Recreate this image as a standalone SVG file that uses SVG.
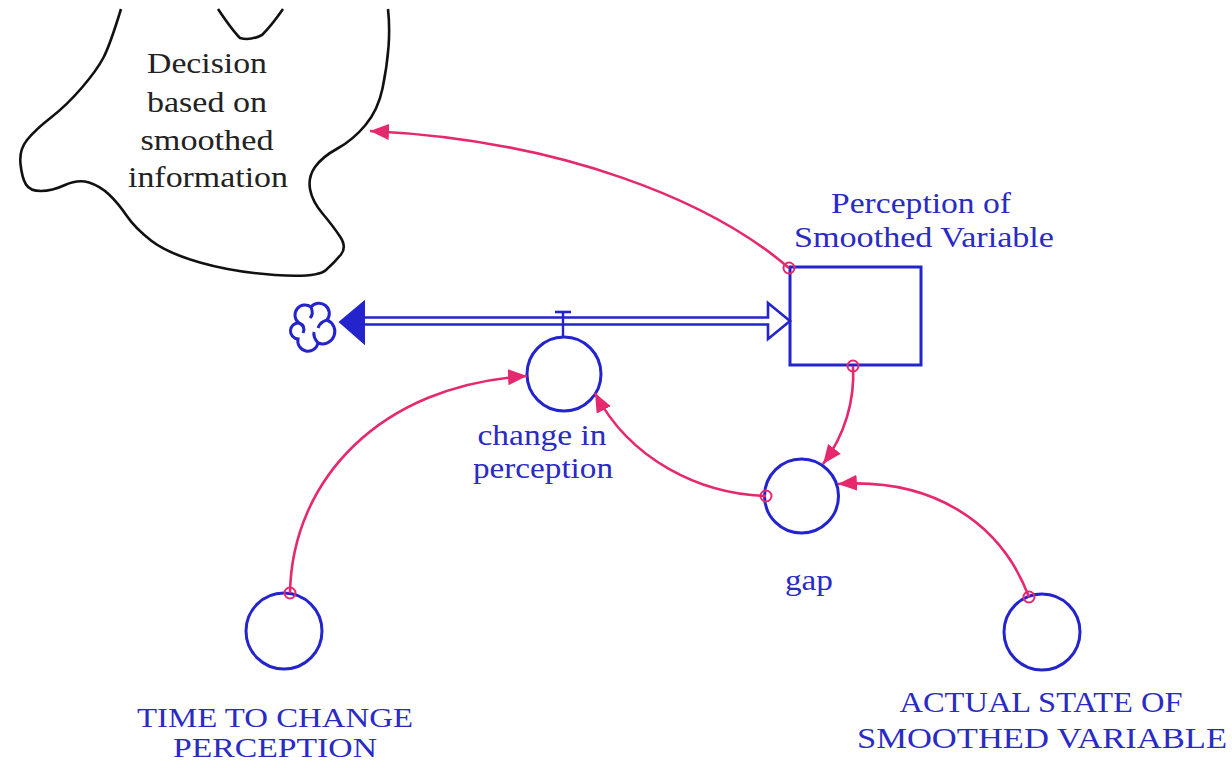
<svg xmlns="http://www.w3.org/2000/svg" width="1232" height="768" viewBox="0 0 1232 768">
<style>
.blue{fill:none;stroke:#2424cc;stroke-width:3}
.lbl{font-family:"Liberation Serif","Times New Roman",serif;font-size:30px;fill:#2a2ac4;text-anchor:middle}
.lbs{font-family:"Liberation Serif","Times New Roman",serif;font-size:27px;fill:#2a2ac4;text-anchor:middle}
.dec{font-family:"Liberation Serif","Times New Roman",serif;font-size:29px;fill:#222;text-anchor:middle}
.link{fill:none;stroke:#e6286e;stroke-width:2.6}
.origin{fill:none;stroke:#e6286e;stroke-width:2}
</style>
<defs>
<marker id="ah" markerUnits="userSpaceOnUse" markerWidth="22" markerHeight="18" refX="19" refY="8" orient="auto">
<path d="M0 0 L19 8 L0 16 Z" fill="#e6286e"/>
</marker>
</defs>
<rect width="1232" height="768" fill="#fff"/>

<g id="decision">
<path d="M 121 9 Q 110 45 103.5 57.5 Q 97 70 82 87.5 Q 67 105 51 117.5 Q 35 130 27 140 Q 19 150 20.5 164 Q 22 178 26 184.5 Q 30 191 41 191 Q 52 191 65 185 Q 78 179 89 182.5 Q 100 186 109 194.5 Q 118 203 126.5 215.5 Q 135 228 151 240.5 Q 167 253 200 262.5 Q 233 272 275 275 Q 317 278 326 270 Q 335 262 341 254.5 Q 347 247 340 236.5 Q 333 226 322.5 213.5 Q 312 201 310 189 Q 308 177 315 167 Q 322 157 337.5 148.5 Q 353 140 365.5 125 Q 378 110 382.5 88.5 Q 387 67 388.5 47 Q 390 27 388 9" fill="none" stroke="#111" stroke-width="2.6"/>
<path d="M 218 9 Q 232 30 240 38 Q 250 41 262 35 Q 272 25 283 9" fill="none" stroke="#111" stroke-width="2.6"/>
<text class="dec" x="207" y="73" textLength="120" lengthAdjust="spacingAndGlyphs">Decision</text>
<text class="dec" x="207" y="112" textLength="120" lengthAdjust="spacingAndGlyphs">based on</text>
<text class="dec" x="207" y="150" textLength="133" lengthAdjust="spacingAndGlyphs">smoothed</text>
<text class="dec" x="208" y="187" textLength="160" lengthAdjust="spacingAndGlyphs">information</text>
</g>

<g id="cloud">
<path class="blue" stroke-width="2.5" d="M 299 323 A 9 9 0 1 1 311 307 A 10 10 0 1 1 327 320 A 9 9 0 1 1 318 343 A 9 9 0 1 1 298 339 A 8 8 0 1 1 299 323 Z"/>
<path class="blue" stroke-width="2.2" d="M 299 323 Q 306 326 303 333 M 311 307 Q 314 314 310 318 M 327 320 Q 320 322 318 328 M 318 343 Q 313 337 314 332"/>
</g>

<g id="flow">
<path d="M 362 317.5 H 768 V 303 L 790 321 L 768 339 V 324.5 H 362" fill="#fff" stroke="#2424cc" stroke-width="2.6"/>
<path d="M 340 322 L 364 302 L 364 343 Z" fill="#2424cc" stroke="#2424cc" stroke-width="2"/>
<line x1="563" y1="312" x2="563" y2="337" stroke="#2424cc" stroke-width="2.4"/>
<line x1="555" y1="312" x2="571" y2="312" stroke="#2424cc" stroke-width="2.6"/>
</g>

<g id="perception">
<rect class="blue" x="790" y="267" width="131" height="98"/>
<text class="lbl" x="921" y="213" textLength="180" lengthAdjust="spacingAndGlyphs">Perception of</text>
<text class="lbl" x="924" y="247" textLength="260" lengthAdjust="spacingAndGlyphs">Smoothed Variable</text>
</g>

<g id="change">
<circle class="blue" cx="564" cy="374" r="37"/>
<text class="lbl" x="542" y="445" textLength="129" lengthAdjust="spacingAndGlyphs">change in</text>
<text class="lbl" x="543" y="478" textLength="140" lengthAdjust="spacingAndGlyphs">perception</text>
</g>

<g id="gap">
<circle class="blue" cx="801.5" cy="496" r="37"/>
<text class="lbl" x="809" y="590" textLength="48" lengthAdjust="spacingAndGlyphs">gap</text>
</g>

<g id="time">
<circle class="blue" cx="284" cy="631" r="38"/>
<text class="lbs" x="275" y="727" textLength="276" lengthAdjust="spacingAndGlyphs">TIME TO CHANGE</text>
<text class="lbs" x="275" y="757" textLength="204" lengthAdjust="spacingAndGlyphs">PERCEPTION</text>
</g>

<g id="actual">
<circle class="blue" cx="1042" cy="632" r="38"/>
<text class="lbl" x="1041" y="712" textLength="283" lengthAdjust="spacingAndGlyphs">ACTUAL STATE OF</text>
<text class="lbl" x="1042" y="748" textLength="370" lengthAdjust="spacingAndGlyphs">SMOOTHED VARIABLE</text>
</g>

<g id="connectors">
<path class="link" marker-end="url(#ah)" d="M 290 593 C 292 480, 380 385, 527 376"/>
<circle class="origin" cx="290" cy="593" r="5.5"/>
<path class="link" marker-end="url(#ah)" d="M 766 496 C 700 494, 630 460, 595 393"/>
<circle class="origin" cx="766" cy="496" r="5.5"/>
<path class="link" marker-end="url(#ah)" d="M 853 366 C 855 400, 845 435, 823 464"/>
<circle class="origin" cx="853" cy="366" r="5.5"/>
<path class="link" marker-end="url(#ah)" d="M 1029 597 C 1000 520, 930 478, 838 484"/>
<circle class="origin" cx="1029" cy="597" r="5.5"/>
<path class="link" marker-end="url(#ah)" d="M 789 268 C 710 200, 560 140, 370 131"/>
<circle class="origin" cx="789" cy="268" r="5.5"/>
</g>
</svg>
